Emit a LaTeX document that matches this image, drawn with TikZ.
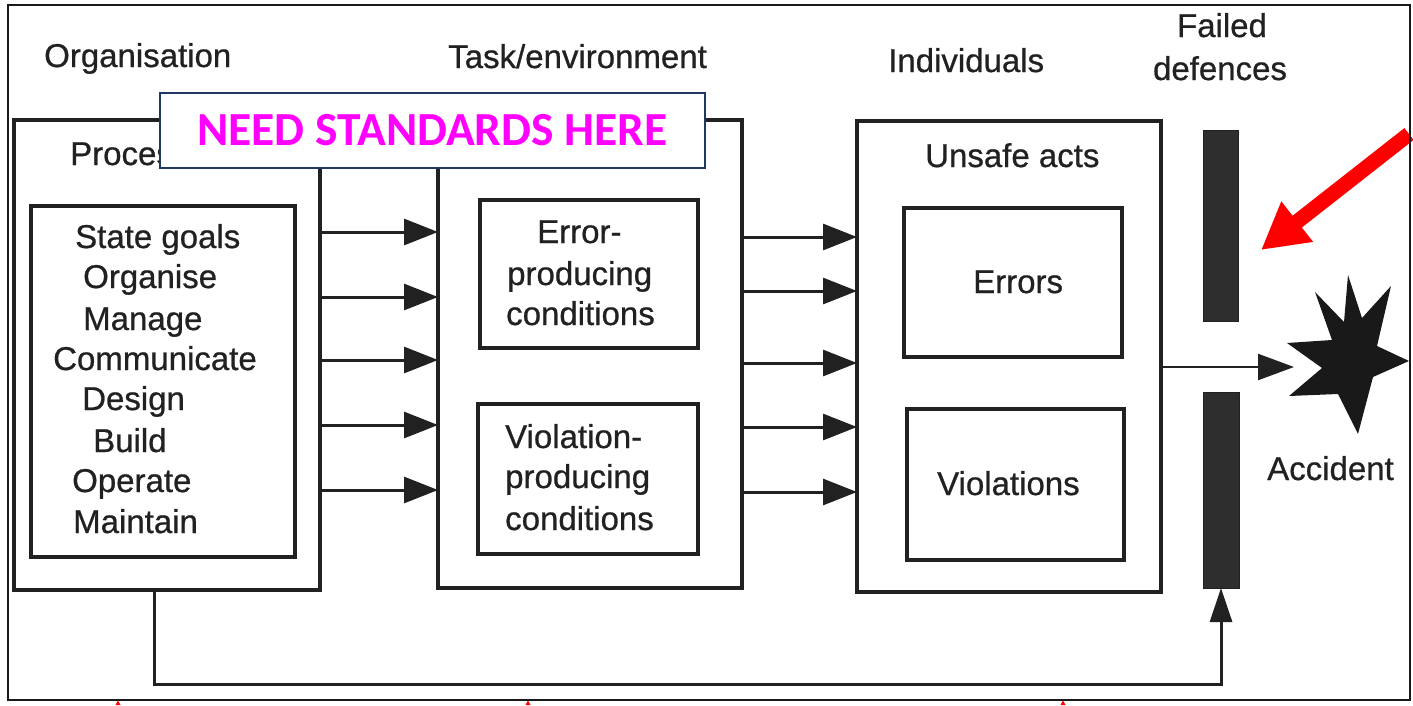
\documentclass[tikz,border=0pt]{standalone}
\usepackage{fontspec}
\setmainfont{Liberation Sans}[FakeBold=0.7]
\newfontfamily\calib{Carlito}
\usetikzlibrary{arrows.meta}
\definecolor{ink}{gray}{0.13}
\definecolor{navy}{HTML}{203864}
\definecolor{mag}{HTML}{FF00FF}
\begin{document}
\begin{tikzpicture}[x=1pt,y=-1pt,
  box/.style={draw=ink, line width=3.2pt, rectangle, inner sep=0pt, outer sep=0pt, anchor=north west},
  bar/.style={draw=ink, fill=black!82, line width=1pt, rectangle, inner sep=0pt, outer sep=0pt, anchor=north west},
  lbl/.style={font=\fontsize{33}{40}\selectfont, text=ink, inner sep=0pt, anchor=base west},
  clbl/.style={font=\fontsize{33}{40}\selectfont, text=ink, inner sep=0pt, anchor=base},
  arr/.style={draw=ink, line width=3pt, -{Triangle[length=34pt,width=26pt]}},
  redarr/.style={draw=red, line width=15pt, -{Triangle[length=46pt,width=48pt]}},
  stdbox/.style={draw=navy, fill=white, line width=2.5pt, inner sep=0pt, minimum width=545pt, minimum height=75pt,
    font=\calib\bfseries\fontsize{47.5}{50}\selectfont, text=mag}]
\useasboundingbox (0,0) rectangle (1413,705);

% headers
\node[lbl] (horg) at (44,67) {Organisation};
\node[lbl] (htask) at (448,68) {Task/environment};
\node[lbl] (hind) at (888,72) {Individuals};
\node[clbl] (hfail1) at (1222,37) {Failed};
\node[clbl] (hfail2) at (1220,80) {defences};

% organisation
\node[box, minimum width=306pt, minimum height=470pt] (org) at (14,120) {};
\node[lbl] (proc) at (70,165) {Processes};
\node[box, minimum width=264pt, minimum height=351pt] (orgin) at (31,206) {};
\node[lbl] (l1) at (75,248) {State goals};
\node[lbl] (l2) at (83,288) {Organise};
\node[lbl] (l3) at (83,330) {Manage};
\node[lbl] (l4) at (53,370) {Communicate};
\node[lbl] (l5) at (82,410) {Design};
\node[lbl] (l6) at (93,452) {Build};
\node[lbl] (l7) at (72,492) {Operate};
\node[lbl] (l8) at (73,533) {Maintain};

% task / environment
\node[box, minimum width=304pt, minimum height=468pt] (task) at (438,120) {};
\node[box, minimum width=218pt, minimum height=148pt] (epc) at (480,200) {};
\node[lbl] (e1) at (537,243) {Error-};
\node[lbl] (e2) at (507,285) {producing};
\node[lbl] (e3) at (506,325) {conditions};
\node[box, minimum width=220pt, minimum height=150pt] (vpc) at (478,404) {};
\node[lbl] (v1) at (505,448) {Violation-};
\node[lbl] (v2) at (505,488) {producing};
\node[lbl] (v3) at (505,530) {conditions};

% individuals
\node[box, minimum width=304pt, minimum height=471pt] (ind) at (857,121) {};
\node[lbl] (ua) at (925,167) {Unsafe acts};
\node[box, minimum width=218pt, minimum height=149pt] (err) at (904,208) {};
\node[lbl] (errt) at (973,293) {Errors};
\node[box, minimum width=217pt, minimum height=151pt] (vio) at (907,409) {};
\node[lbl] (viot) at (937,495) {Violations};

% defences
\node[bar, minimum width=35pt, minimum height=191pt] (def1) at (1203,130) {};
\node[bar, minimum width=36pt, minimum height=196pt] (def2) at (1203,392) {};

% arrows
\foreach \yy in {232,297,360,425,490}
  \draw[arr] (org.east |- 0,\yy) -- (task.west |- 0,\yy);
\foreach \yy in {237,291,363,427,492}
  \draw[arr] (task.east |- 0,\yy) -- (ind.west |- 0,\yy);

% accident
\coordinate (acctip) at (1294,367);
\draw[draw=ink, line width=2.4pt, -{Triangle[length=36pt,width=26pt]}] (ind.east |- acctip) -- (acctip);
\fill[black!90] (1287,343) -- (1332,340) -- (1315,292) -- (1344,322) -- (1348,275) -- (1362,318)
  -- (1391,286) -- (1377,346) -- (1409,361) -- (1373,377) -- (1358,434) -- (1338,394)
  -- (1289,396) -- (1322,368) -- cycle;
\node[lbl] (acc) at (1267,480) {Accident};

% feedback
\coordinate (fb1) at (154,684);
\draw[draw=ink, line width=3pt, -{Triangle[length=34pt,width=22pt]}]
  (org.south -| fb1) -- (fb1) -- (def2.south |- fb1) -- (def2.south);

% red arrow
\coordinate (redtail) at (1409,134);
\coordinate (redtip) at (1261,250);
\draw[redarr] (redtail) -- (redtip);

% standards box
\node[stdbox] (std) at (432.5,130.5) {NEED STANDARDS HERE};

% frame
\draw[line width=2.5pt, black!90] (8,5) rectangle (1410,700);

% small red marks below frame
\foreach \xx in {118,528,1063}
  \fill[red] (\xx-2.5,705) -- (\xx,700.5) -- (\xx+2.5,705) -- cycle;
\end{tikzpicture}
\end{document}
